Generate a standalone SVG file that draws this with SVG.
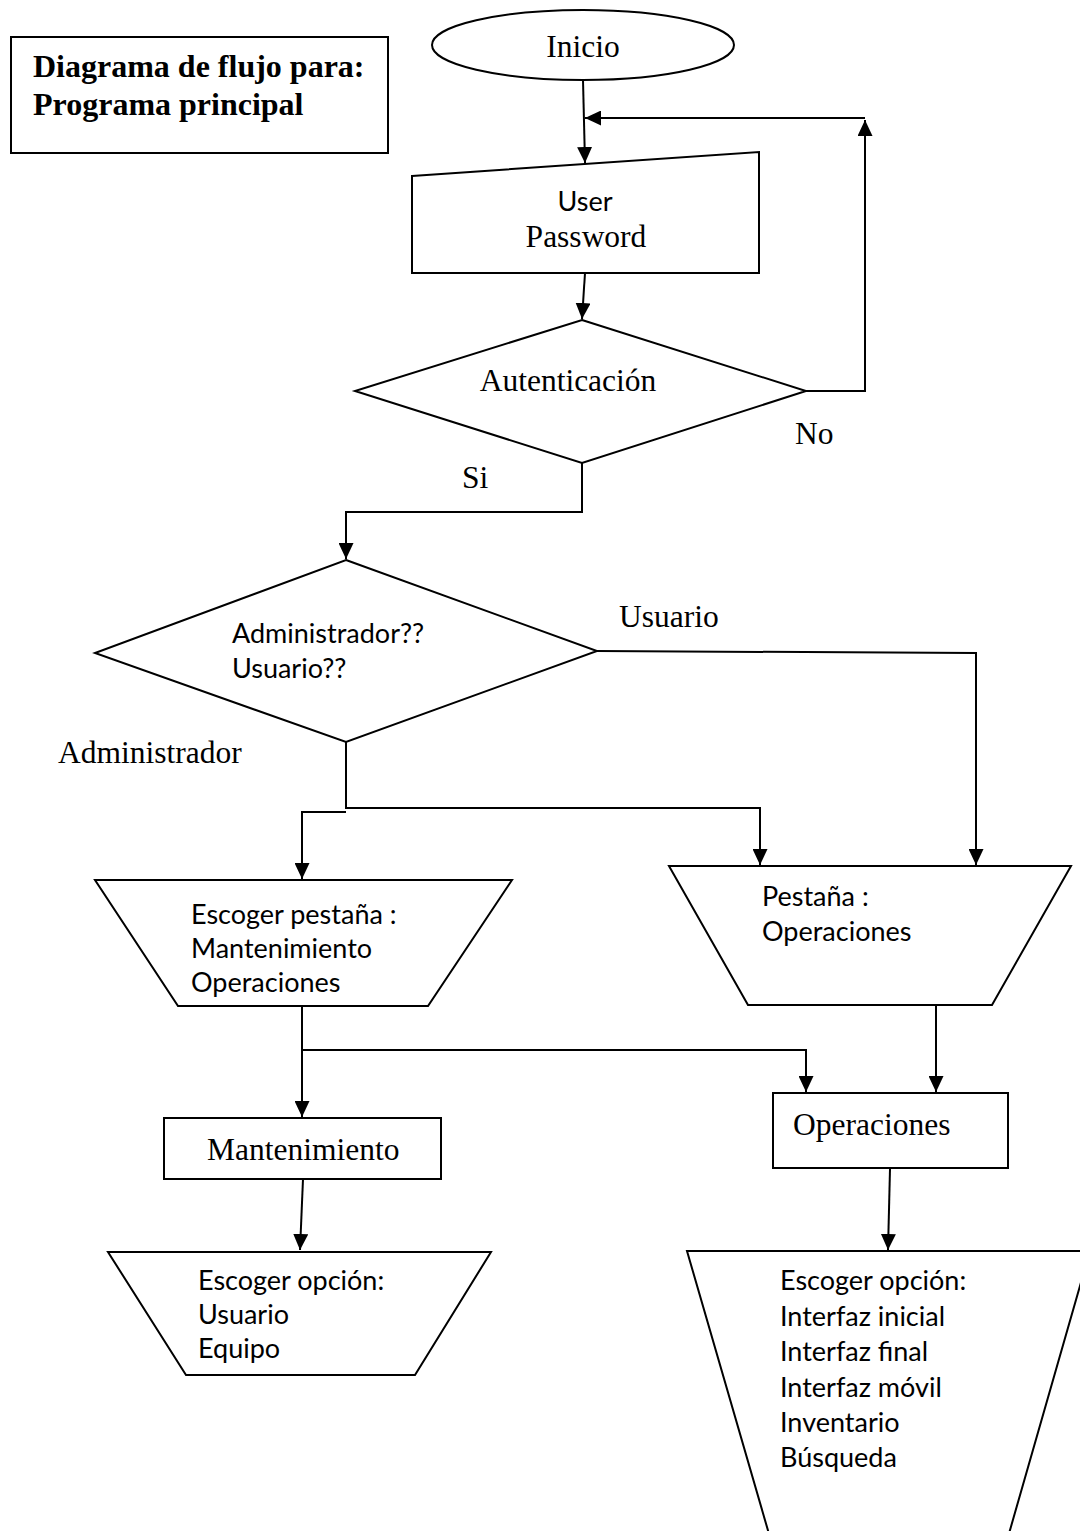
<svg xmlns="http://www.w3.org/2000/svg" width="1080" height="1531" viewBox="0 0 1080 1531">
<style>
.s{fill:#fff;stroke:#000;stroke-width:2}
.c{fill:none;stroke:#000;stroke-width:2;marker-end:url(#ah)}
.tr{font-family:"Liberation Serif","Times New Roman",serif;font-size:31.5px;fill:#000}
.tb{font-family:"Liberation Serif","Times New Roman",serif;font-size:32px;font-weight:bold;fill:#000}
.ts{font-family:Lato,"Liberation Sans",sans-serif;font-size:27px;fill:#000}
</style>
<defs>
<marker id="ah" markerUnits="userSpaceOnUse" markerWidth="16" markerHeight="15" refX="16" refY="7.5" orient="auto">
<path d="M0,0 L16,7.5 L0,15 z" fill="#000"/>
</marker>
</defs>
<rect width="1080" height="1531" fill="#fff"/>
<g id="connectors">
<path class="c" d="M583,80 L585,163"/>
<path class="c" d="M585,273 L582,319"/>
<path class="c" d="M806,391 H865 V120"/>
<path class="c" d="M865,118 H585"/>
<path class="c" d="M582,463 V512 H346 V559"/>
<path class="c" d="M597,651 L976,653 V865"/>
<path class="c" d="M346,742 V808 H760 V865"/>
<path class="c" d="M346,812 H302 V879"/>
<path class="c" d="M302,1006 V1117"/>
<path class="c" d="M302,1050 H806 V1092"/>
<path class="c" d="M936,1005 V1092"/>
<path class="c" d="M303,1179 L300,1250"/>
<path class="c" d="M890,1169 L888,1250"/>
</g>
<g id="title">
<rect class="s" x="11" y="37" width="377" height="116"/>
<text class="tb" x="33" y="77">Diagrama de flujo para:</text>
<text class="tb" x="33" y="115">Programa principal</text>
</g>
<g id="inicio">
<ellipse class="s" cx="583" cy="45" rx="151" ry="35"/>
<text class="tr" x="583" y="57" text-anchor="middle">Inicio</text>
</g>
<g id="login">
<polygon class="s" points="412,176 759,152 759,273 412,273"/>
<text class="ts" x="585" y="211" text-anchor="middle">User</text>
<text class="tr" x="586" y="247" text-anchor="middle">Password</text>
</g>
<g id="auth">
<polygon class="s" points="582,320 806,391 582,463 355,391"/>
<text class="tr" x="568" y="391" text-anchor="middle">Autenticación</text>
</g>
<g id="labels">
<text class="tr" x="795" y="444">No</text>
<text class="tr" x="462" y="488">Si</text>
<text class="tr" x="619" y="627">Usuario</text>
<text class="tr" x="58" y="763">Administrador</text>
</g>
<g id="rol">
<polygon class="s" points="346,560 597,651 346,742 95,653"/>
<text class="ts" x="232" y="643">Administrador??</text>
<text class="ts" x="232" y="678">Usuario??</text>
</g>
<g id="escoger-pestana">
<polygon class="s" points="95,880 512,880 428,1006 178,1006"/>
<text class="ts" x="191" y="924">Escoger pestaña :</text>
<text class="ts" x="191" y="958">Mantenimiento</text>
<text class="ts" x="191" y="992">Operaciones</text>
</g>
<g id="pestana">
<polygon class="s" points="669,866 1071,866 992,1005 748,1005"/>
<text class="ts" x="762" y="906">Pestaña :</text>
<text class="ts" x="762" y="941">Operaciones</text>
</g>
<g id="mantenimiento">
<rect class="s" x="164" y="1118" width="277" height="61"/>
<text class="tr" x="207" y="1160">Mantenimiento</text>
</g>
<g id="operaciones">
<rect class="s" x="773" y="1093" width="235" height="75"/>
<text class="tr" x="793" y="1135">Operaciones</text>
</g>
<g id="opcion-mant">
<polygon class="s" points="108,1252 491,1252 415,1375 186,1375"/>
<text class="ts" x="198" y="1290">Escoger opción:</text>
<text class="ts" x="198" y="1324">Usuario</text>
<text class="ts" x="198" y="1358">Equipo</text>
</g>
<g id="opcion-oper">
<polygon class="s" points="687,1251 1090,1251 1000,1565 778,1565"/>
<text class="ts" x="780" y="1290">Escoger opción:</text>
<text class="ts" x="780" y="1326">Interfaz inicial</text>
<text class="ts" x="780" y="1361">Interfaz final</text>
<text class="ts" x="780" y="1397">Interfaz móvil</text>
<text class="ts" x="780" y="1432">Inventario</text>
<text class="ts" x="780" y="1467">Búsqueda</text>
</g>
</svg>
